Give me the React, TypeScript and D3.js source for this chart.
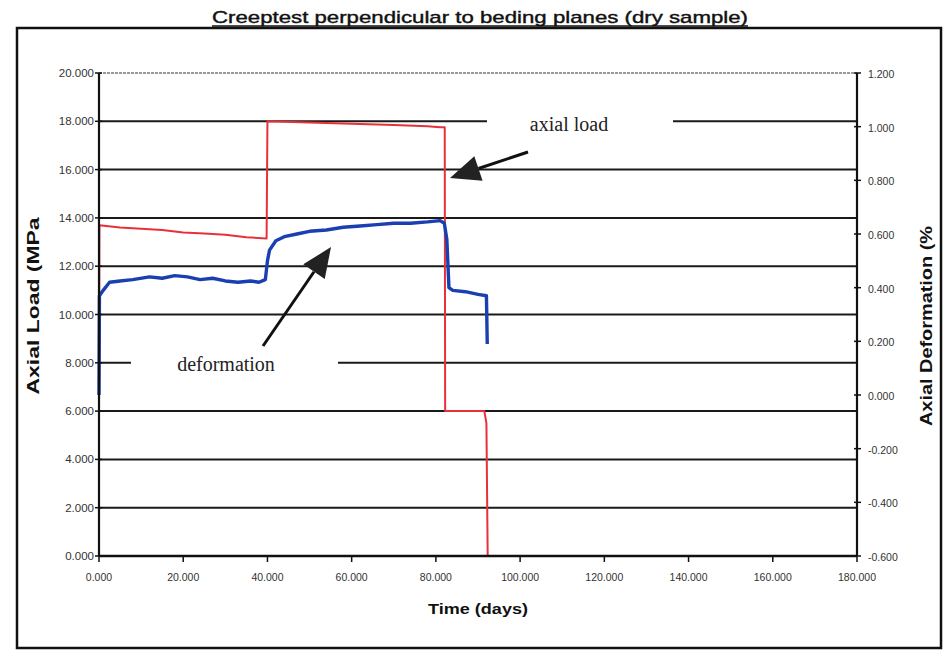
import React from "react";
import * as d3 from "d3";

const title = "Creeptest perpendicular to beding planes (dry sample)";
const xTicks = [0, 20, 40, 60, 80, 100, 120, 140, 160, 180];
const leftTicks = [0, 2, 4, 6, 8, 10, 12, 14, 16, 18, 20];
const rightTicks = [-0.6, -0.4, -0.2, 0, 0.2, 0.4, 0.6, 0.8, 1.0, 1.2];

// axial load (MPa) vs time (days)
const loadDays = [0, 0.1, 5, 10, 15, 20, 25, 30, 35, 39.8, 40, 50, 60, 70, 78, 81, 82.1, 82.2, 91.5, 92, 92.3];
const loadMPa = [6.0, 13.7, 13.6, 13.55, 13.5, 13.4, 13.35, 13.3, 13.2, 13.15, 18.0, 17.95, 17.9, 17.85, 17.8, 17.75, 17.75, 6.0, 6.0, 5.5, 0];

// axial deformation (%) vs time (days)
const defDays = [0, 0.1, 1, 2.5, 5, 8, 12, 15, 18, 21, 24, 27, 30, 33, 36, 38, 39.5, 40, 40.5, 42, 44, 47, 50, 54, 58, 62, 66, 70, 74, 78, 81, 82, 82.6, 83.1, 84, 87, 90, 92, 92.2];
const defPct = [0.0, 0.37, 0.39, 0.42, 0.425, 0.43, 0.44, 0.435, 0.445, 0.44, 0.43, 0.435, 0.425, 0.42, 0.425, 0.42, 0.43, 0.5, 0.54, 0.575, 0.59, 0.6, 0.61, 0.615, 0.625, 0.63, 0.635, 0.64, 0.64, 0.645, 0.65, 0.64, 0.58, 0.4, 0.39, 0.385, 0.375, 0.37, 0.19];

const W = 944;
const H = 655;

export default function App() {
  const x = d3.scaleLinear().domain([0, 180]).range([99, 857]);
  const yL = d3.scaleLinear().domain([0, 20]).range([556, 73]);
  const yR = d3.scaleLinear().domain([-0.6, 1.2]).range([556, 73]);
  const f3 = d3.format(".3f");
  const fmt = (v: number) => f3(v).replace("\u2212", "-");

  const loadPts: [number, number][] = loadDays.map((d, i) => [d, loadMPa[i]]);
  const defPts: [number, number][] = defDays.map((d, i) => [d, defPct[i]]);
  const loadLine = d3.line<[number, number]>().x((d) => x(d[0])).y((d) => yL(d[1]));
  const defLine = d3.line<[number, number]>().x((d) => x(d[0])).y((d) => yR(d[1]));

  const arrow = (x1: number, y1: number, x2: number, y2: number) => {
    const ang = Math.atan2(y2 - y1, x2 - x1);
    const len = 30;
    const half = 13;
    const bx = x2 - len * Math.cos(ang);
    const by = y2 - len * Math.sin(ang);
    const px = -Math.sin(ang) * half;
    const py = Math.cos(ang) * half;
    return (
      <g>
        <line x1={x1} y1={y1} x2={bx} y2={by} stroke="#111" strokeWidth={3} />
        <polygon points={`${x2},${y2} ${bx + px},${by + py} ${bx - px},${by - py}`} fill="#222" />
      </g>
    );
  };

  return (
    <svg width={W} height={H} style={{ position: "absolute", left: 0, top: 0, background: "#fff" }} fontFamily="'Liberation Sans', Arial, sans-serif">
      <rect x={0} y={0} width={W} height={H} fill="#fff" />
      {/* title */}
      <text x={480} y={23} fontSize={17} textAnchor="middle" textLength={536} lengthAdjust="spacingAndGlyphs" fill="#111" stroke="#111" strokeWidth={0.4}>
        {title}
      </text>
      <line x1={212} y1={26} x2={748} y2={26} stroke="#111" strokeWidth={1.5} />
      {/* frame */}
      <rect x={17} y={28} width={924} height={620} fill="none" stroke="#111" strokeWidth={2.5} />

      {/* gridlines */}
      {leftTicks.map((t) =>
        t === 20 ? (
          <line key={t} x1={99} x2={857} y1={yL(t)} y2={yL(t)} stroke="#9a9a9a" strokeWidth={2} strokeDasharray="3,1" />
        ) : t === 0 ? null : (
          <line key={t} x1={99} x2={857} y1={yL(t)} y2={yL(t)} stroke="#1a1a1a" strokeWidth={2} />
        )
      )}

      {/* series */}
      <path d={loadLine(loadPts) || ""} fill="none" stroke="#e8303a" strokeWidth={2} strokeLinejoin="round" />
      <path d={defLine(defPts) || ""} fill="none" stroke="#1a3fb0" strokeWidth={3.4} strokeLinejoin="round" />

      {/* axes */}
      <line x1={99} x2={99} y1={yL(20)} y2={yL(0)} stroke="#111" strokeWidth={2.2} />
      <line x1={857} x2={857} y1={yR(1.2)} y2={yR(-0.6)} stroke="#111" strokeWidth={2.2} />
      <line x1={99} x2={857} y1={yL(0)} y2={yL(0)} stroke="#111" strokeWidth={2.5} />

      {leftTicks.map((t) => (
        <g key={t}>
          <line x1={95} x2={102} y1={yL(t)} y2={yL(t)} stroke="#111" strokeWidth={1.5} />
          <text x={94} y={yL(t) + 4} fontSize={11.5} textAnchor="end" fill="#333">
            {fmt(t)}
          </text>
        </g>
      ))}
      {rightTicks.map((t) => (
        <g key={t}>
          <line x1={854} x2={861} y1={yR(t)} y2={yR(t)} stroke="#111" strokeWidth={1.5} />
          <text x={868} y={yR(t) + 5} fontSize={10.5} textAnchor="start" fill="#333">
            {fmt(t)}
          </text>
        </g>
      ))}
      {xTicks.map((t) => (
        <g key={t}>
          <line x1={x(t)} x2={x(t)} y1={556} y2={562} stroke="#111" strokeWidth={1.5} />
          <text x={x(t)} y={581} fontSize={10.5} textAnchor="middle" fill="#333">
            {fmt(t)}
          </text>
        </g>
      ))}

      {/* axis titles */}
      <text x={478} y={614} fontSize={15} fontWeight="bold" textAnchor="middle" textLength={100} lengthAdjust="spacingAndGlyphs" fill="#111">
        Time (days)
      </text>
      <text transform="translate(39,306) rotate(-90)" fontSize={16} fontWeight="bold" textAnchor="middle" textLength={177} lengthAdjust="spacingAndGlyphs" fill="#111">
        Axial Load (MPa
      </text>
      <text transform="translate(932,326) rotate(-90)" fontSize={16} fontWeight="bold" textAnchor="middle" textLength={200} lengthAdjust="spacingAndGlyphs" fill="#111">
        Axial Deformation (%
      </text>

      {/* annotations */}
      <rect x={487} y={110} width={186} height={26} fill="#fff" />
      <text x={569} y={131} fontSize={20} textAnchor="middle" fontFamily="'Liberation Serif', 'Times New Roman', serif" fill="#222">
        axial load
      </text>
      {arrow(528, 152, 450, 178)}
      <rect x={131} y={352} width={207} height={26} fill="#fff" />
      <text x={226} y={371} fontSize={20} textAnchor="middle" fontFamily="'Liberation Serif', 'Times New Roman', serif" fill="#222">
        deformation
      </text>
      {arrow(263, 346, 331, 247)}
    </svg>
  );
}
